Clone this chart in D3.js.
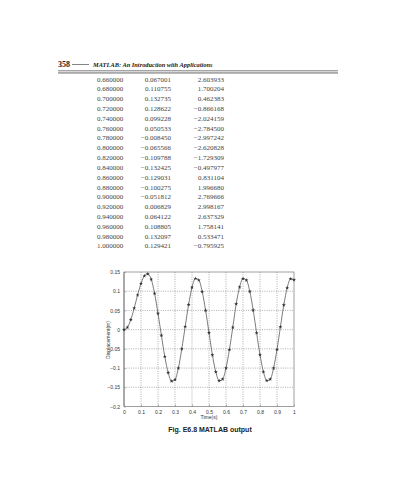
<!DOCTYPE html>
<html>
<head>
<meta charset="utf-8">
<script src="https://cdn.jsdelivr.net/npm/d3@7"></script>
<style>
  body { margin: 0; background: #fff; }
  svg { display: block; }
</style>
</head>
<body>
<svg id="pagina"></svg>
<script>
// tabela impressa (t, deslocamento, velocidade)
const tabelaTempo = [0.66, 0.68, 0.70, 0.72, 0.74, 0.76, 0.78, 0.80, 0.82,
    0.84, 0.86, 0.88, 0.90, 0.92, 0.94, 0.96, 0.98, 1.00];
const tabelaDesloc = [0.067001, 0.110755, 0.132735, 0.128622, 0.099228, 0.050533,
    -0.008450, -0.065566, -0.109788, -0.132425, -0.129031, -0.100275, -0.051812,
    0.006829, 0.064122, 0.108805, 0.132097, 0.129421];
const tabelaVeloc = [2.603933, 1.700204, 0.462383, -0.866168, -2.024159, -2.784500,
    -2.997242, -2.620828, -1.729309, -0.497977, 0.831104, 1.996680, 2.769666,
    2.998167, 2.637329, 1.758141, 0.533471, -0.795925];

// pontos do grafico antes da tabela
const tempoInicial = [0, 0.02, 0.04, 0.06, 0.08, 0.10, 0.12, 0.14, 0.16, 0.18,
    0.20, 0.22, 0.24, 0.26, 0.28, 0.30, 0.32, 0.34, 0.36, 0.38, 0.40, 0.42,
    0.44, 0.46, 0.48, 0.50, 0.52, 0.54, 0.56, 0.58, 0.60, 0.62, 0.64];
const deslocInicial = [0, 0.006, 0.026, 0.056, 0.090, 0.120, 0.140, 0.145, 0.131,
    0.094, 0.042, -0.015, -0.070, -0.112, -0.134, -0.130, -0.100, -0.050, 0.008,
    0.065, 0.110, 0.133, 0.129, 0.099, 0.050, -0.008, -0.066, -0.110, -0.133,
    -0.129, -0.100, -0.052, 0.006];

const ticksX = [0, 0.1, 0.2, 0.3, 0.4, 0.5, 0.6, 0.7, 0.8, 0.9, 1];
const ticksY = [0.15, 0.1, 0.05, 0, -0.05, -0.1, -0.15, -0.2];

const dados = tempoInicial.concat(tabelaTempo).map((t, i) => ({
    t: t,
    x: i < deslocInicial.length ? deslocInicial[i] : tabelaDesloc[i - deslocInicial.length]
}));

const serifa = '"Liberation Serif", "Times New Roman", serif';
const semSerifa = '"Liberation Sans", Arial, sans-serif';

let svg = d3.select('#pagina')
    .attr('width', 397)
    .attr('height', 480);

svg.append('rect').attr('width', 397).attr('height', 480).attr('fill', '#fff');

// cabecalho
let cab = svg.append('g');
cab.append('text')
    .attr('x', 58).attr('y', 67)
    .style('font-family', serifa)
    .style('font-weight', 'bold')
    .style('font-size', '8px')
    .attr('fill', '#222')
    .text('358');
cab.append('line')
    .attr('x1', 72).attr('x2', 89)
    .attr('y1', 64.5).attr('y2', 64.5)
    .attr('stroke', '#333').attr('stroke-width', 0.6);
cab.append('text')
    .attr('x', 93).attr('y', 67)
    .style('font-family', serifa)
    .style('font-weight', 'bold')
    .style('font-style', 'italic')
    .style('font-size', '6.4px')
    .attr('fill', '#222')
    .text('MATLAB: An Introduction with Applications');
cab.append('line')
    .attr('x1', 58).attr('x2', 338)
    .attr('y1', 70.6).attr('y2', 70.6)
    .attr('stroke', '#555').attr('stroke-width', 0.6);
cab.append('rect')
    .attr('x', 58).attr('y', 71.6)
    .attr('width', 280).attr('height', 2.2)
    .attr('fill', '#aaa');

// tabela
const fmt = v => d3.format('.6f')(v).replace('-', '\u2013');
let tabela = svg.append('g')
    .style('font-family', serifa)
    .style('font-size', '7px')
    .attr('fill', '#444');
tabelaTempo.forEach((t, i) => {
    let y = 81.5 + i * 9.82;
    tabela.append('text').attr('x', 97).attr('y', y).text(fmt(t));
    tabela.append('text').attr('x', 171).attr('y', y)
        .style('text-anchor', 'end').text(fmt(tabelaDesloc[i]));
    tabela.append('text').attr('x', 224).attr('y', y)
        .style('text-anchor', 'end').text(fmt(tabelaVeloc[i]));
});

// grafico
const area = { esquerda: 124, direita: 294, superior: 272, inferior: 406.5 };

let fnX = d3.scaleLinear().domain([0, 1]).range([area.esquerda, area.direita]);
let fnY = d3.scaleLinear().domain([-0.2, 0.15]).range([area.inferior, area.superior]);

let plot = svg.append('g');

// grade pontilhada
plot.append('g')
    .selectAll('line')
    .data(ticksX.slice(1, -1))
    .enter().append('line')
    .attr('x1', d => fnX(d)).attr('x2', d => fnX(d))
    .attr('y1', area.superior).attr('y2', area.inferior)
    .attr('stroke', '#777').attr('stroke-width', 0.6)
    .attr('stroke-dasharray', '1,1.3');
plot.append('g')
    .selectAll('line')
    .data(ticksY.slice(1, -1))
    .enter().append('line')
    .attr('x1', area.esquerda).attr('x2', area.direita)
    .attr('y1', d => fnY(d)).attr('y2', d => fnY(d))
    .attr('stroke', '#777').attr('stroke-width', 0.6)
    .attr('stroke-dasharray', '1,1.3');

// eixos
let eixoX = d3.axisBottom(fnX).tickValues(ticksX).tickSizeInner(-2).tickSizeOuter(0)
    .tickPadding(4).tickFormat(d => d3.format('~g')(d));
plot.append('g')
    .attr('transform', 'translate(0,' + area.inferior + ')')
    .call(eixoX);
let eixoY = d3.axisLeft(fnY).tickValues(ticksY).tickSizeInner(-2).tickSizeOuter(0)
    .tickPadding(4).tickFormat(d => d3.format('~g')(d));
plot.append('g')
    .attr('transform', 'translate(' + area.esquerda + ',0)')
    .call(eixoY);

plot.selectAll('.tick text')
    .style('font-family', semSerifa)
    .style('font-size', '5px')
    .attr('fill', '#333');
plot.selectAll('.tick line').attr('stroke', '#666').attr('stroke-width', 0.5);
plot.selectAll('.domain').remove();

plot.append('rect')
    .attr('x', area.esquerda).attr('y', area.superior)
    .attr('width', area.direita - area.esquerda)
    .attr('height', area.inferior - area.superior)
    .attr('fill', 'none')
    .attr('stroke', '#888').attr('stroke-width', 0.8);
plot.append('line')
    .attr('x1', area.esquerda).attr('x2', area.esquerda)
    .attr('y1', area.superior).attr('y2', area.inferior)
    .attr('stroke', '#999').attr('stroke-width', 1.4);

// curva
let linha = d3.line().x(d => fnX(d.t)).y(d => fnY(d.x)).curve(d3.curveMonotoneX);
plot.append('path')
    .datum(dados)
    .attr('d', linha)
    .attr('fill', 'none')
    .attr('stroke', '#444')
    .attr('stroke-width', 0.7);

plot.append('g')
    .selectAll('path')
    .data(dados)
    .enter().append('path')
    .attr('transform', d => 'translate(' + fnX(d.t) + ',' + fnY(d.x) + ')')
    .attr('d', d3.symbol().type(d3.symbolStar).size(5))
    .attr('fill', '#333');

// titulos
plot.append('text')
    .attr('x', (area.esquerda + area.direita) / 2).attr('y', 419)
    .style('text-anchor', 'middle')
    .style('font-family', semSerifa)
    .style('font-size', '5px')
    .attr('fill', '#333')
    .text('Time(s)');
plot.append('text')
    .attr('transform', 'translate(110,' + 340 + ') rotate(-90)')
    .style('text-anchor', 'middle')
    .style('font-family', semSerifa)
    .style('font-size', '5px')
    .attr('fill', '#333')
    .text('Displacement(m)');

svg.append('text')
    .attr('x', 210).attr('y', 432)
    .style('text-anchor', 'middle')
    .style('font-family', semSerifa)
    .style('font-weight', 'bold')
    .style('font-size', '7px')
    .attr('fill', '#222')
    .text('Fig. E6.8 MATLAB output');
</script>
</body>
</html>
